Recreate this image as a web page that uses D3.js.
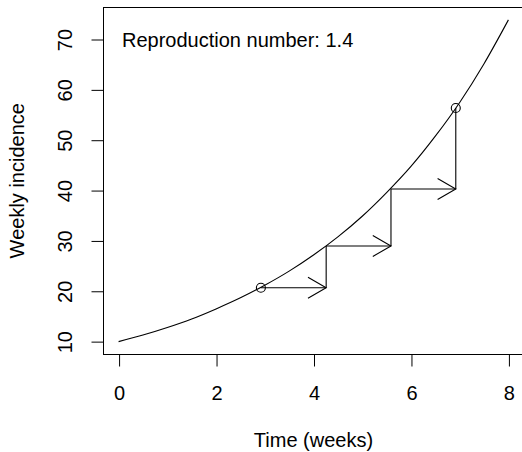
<!DOCTYPE html>
<html>
<head>
<meta charset="utf-8">
<script src="https://cdn.jsdelivr.net/npm/d3@7"></script>
<style>
  html, body { margin: 0; padding: 0; background: #fff; }
  svg { display: block; }
  text { font-family: "Liberation Sans", Arial, Helvetica, sans-serif; fill: #000; }
</style>
</head>
<body>
<script>
// ---- data ----
const curveTimes = [0, 0.5, 1, 1.5, 2, 2.5, 3, 3.5, 4, 4.5, 5, 5.5, 6, 6.5, 7, 7.5, 8];
const curveValues = [10.0, 11.3, 12.8, 14.5, 16.5, 18.7, 21.2, 24.0, 27.2, 30.8, 34.9, 39.6, 44.8, 50.8, 57.5, 65.2, 73.9];
const genTimes = [2.92, 4.26, 5.59, 6.92];
const genValues = [20.7, 29.0, 40.3, 56.4];
const xTicks = [0, 2, 4, 6, 8];
const yTicks = [10, 20, 30, 40, 50, 60, 70];
const annotation = "Reproduction number: 1.4";
const xLabel = "Time (weeks)";
const yLabel = "Weekly incidence";

// ---- layout ----
const W = 522, H = 452;
const plot = { left: 103, right: 524, top: 7, bottom: 354.5 };
const fs = 20;

const svg = d3.select("body").append("svg").attr("width", W).attr("height", H);

// R-style 4% extension
const xmin = d3.min(curveTimes), xmax = d3.max(curveTimes);
const ymin = d3.min(curveValues), ymax = d3.max(curveValues);
const xpad = (xmax - xmin) * 0.04, ypad = (ymax - ymin) * 0.04;
const x = d3.scaleLinear().domain([xmin - xpad, xmax + xpad]).range([plot.left, plot.right]);
const y = d3.scaleLinear().domain([ymin - ypad, ymax + ypad]).range([plot.bottom, plot.top]);

// box
svg.append("rect")
  .attr("x", plot.left + 0.5).attr("y", plot.top + 0.5)
  .attr("width", plot.right - plot.left).attr("height", plot.bottom - plot.top - 0.5)
  .attr("fill", "none").attr("stroke", "#000").attr("stroke-width", 1);

// x axis
const xAxis = svg.append("g").attr("transform", `translate(0.5,${plot.bottom})`)
  .call(d3.axisBottom(x).tickValues(xTicks).tickSize(12).tickFormat(d3.format("d")));
xAxis.select(".domain").remove();
xAxis.selectAll("line").attr("stroke", "#000");
xAxis.selectAll("text").attr("font-size", fs).attr("font-family", "Liberation Sans, Arial, sans-serif")
  .attr("dy", null).attr("y", 45.5);

// y axis
const yAxis = svg.append("g").attr("transform", `translate(${plot.left + 0.5},0)`)
  .call(d3.axisLeft(y).tickValues(yTicks).tickSize(12).tickFormat(d3.format("d")));
yAxis.select(".domain").remove();
yAxis.selectAll("line").attr("stroke", "#000");
yAxis.selectAll("text").remove();
yAxis.selectAll(".tick").append("text")
  .attr("transform", "translate(-32,0) rotate(-90)")
  .attr("text-anchor", "middle")
  .attr("font-size", fs)
  .attr("font-family", "Liberation Sans, Arial, sans-serif")
  .attr("fill", "#000")
  .text(d => d);

// axis titles
svg.append("text").attr("x", (plot.left + plot.right) / 2).attr("y", 447)
  .attr("text-anchor", "middle").attr("font-size", fs).text(xLabel);
svg.append("text")
  .attr("transform", `translate(24,${(plot.top + plot.bottom) / 2}) rotate(-90)`)
  .attr("text-anchor", "middle").attr("font-size", fs).text(yLabel);

// annotation
svg.append("text").attr("x", 122).attr("y", 47).attr("font-size", fs).text(annotation);

// curve
const line = d3.line().x((d, i) => x(curveTimes[i])).y(d => y(d)).curve(d3.curveMonotoneX);
svg.append("path").datum(curveValues).attr("d", line)
  .attr("fill", "none").attr("stroke", "#000").attr("stroke-width", 1.1);

// generation steps
const g = svg.append("g").attr("stroke", "#000").attr("stroke-width", 1.1).attr("fill", "none");
const head = 21, ang = Math.PI / 6;
for (let i = 0; i < genTimes.length - 1; i++) {
  const x0 = x(genTimes[i]), x1 = x(genTimes[i + 1]);
  const y0 = y(genValues[i]), y1 = y(genValues[i + 1]);
  // horizontal arrow
  g.append("line").attr("x1", x0).attr("y1", y0).attr("x2", x1).attr("y2", y0);
  g.append("path").attr("d",
    `M${x1 - head * Math.cos(ang)},${y0 - head * Math.sin(ang)}L${x1},${y0}L${x1 - head * Math.cos(ang)},${y0 + head * Math.sin(ang)}`);
  // vertical step
  g.append("line").attr("x1", x1).attr("y1", y0).attr("x2", x1).attr("y2", y1);
}
// circles at first and last
[0, genTimes.length - 1].forEach(i => {
  g.append("circle").attr("cx", x(genTimes[i])).attr("cy", y(genValues[i])).attr("r", 4.5);
});
</script>
</body>
</html>
